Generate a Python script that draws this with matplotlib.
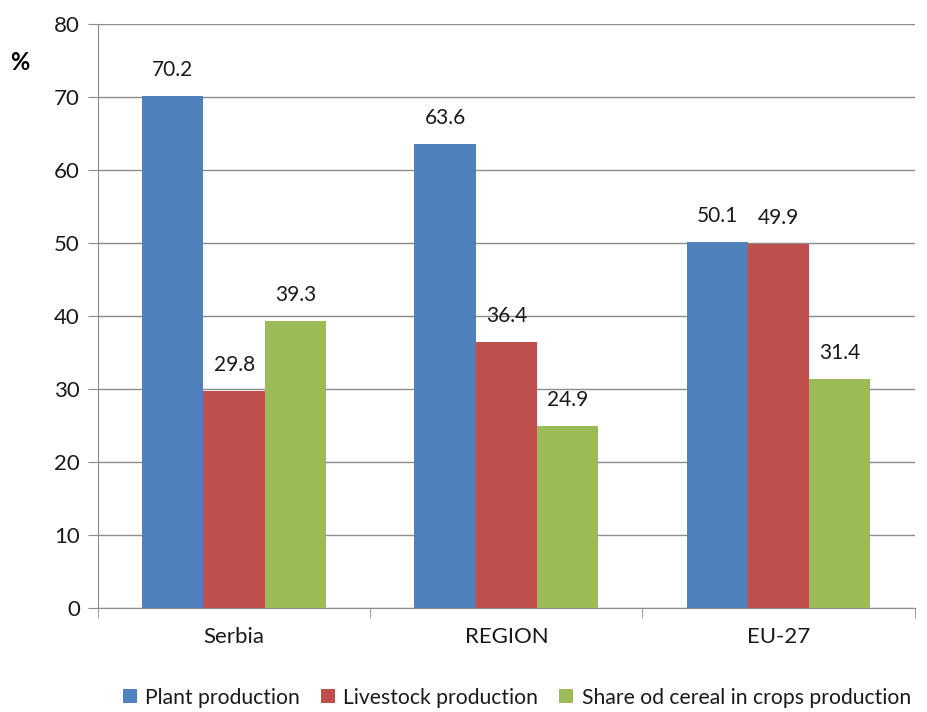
import numpy as np
import matplotlib
matplotlib.use('Agg')
import matplotlib.pyplot as plt
from matplotlib.patches import Patch

plt.rcParams['font.family'] = ['Lato', 'DejaVu Sans']

regions = ['Serbia', 'REGION', 'EU-27']
plant = [70.2, 63.6, 50.1]
livestock = [29.8, 36.4, 49.9]
cereal = [39.3, 24.9, 31.4]
series = ['Plant production', 'Livestock production', 'Share od cereal in crops production']
colors = ['#4f81bd', '#c0504d', '#9bbb59']

fig = plt.figure(figsize=(9.28, 7.12), dpi=100)
ax = fig.add_axes([0.1056, 0.146, 0.880, 0.820])

x = np.arange(len(regions))
w = 0.225
for k, vals in enumerate([plant, livestock, cereal]):
    pos = x + (k - 1) * w
    ax.bar(pos, vals, w, color=colors[k], zorder=3)
    for p, v in zip(pos, vals):
        ax.text(p, v + 2.2, f'{v:.1f}', ha='center', va='bottom', fontsize=15, color='#1a1a1a')

ax.set_ylim(0, 80)
ax.set_xlim(-0.5, 2.5)
ax.set_yticks(range(0, 81, 10))
ax.yaxis.grid(True, color='#8c8c8c', linewidth=1, zorder=0)
ax.set_xticks(x)
ax.set_xticklabels(regions, fontsize=16, color='#1a1a1a')
ax.set_xticks([-0.5, 0.5, 1.5, 2.5], minor=True)
ax.tick_params(axis='x', which='major', length=0, pad=14)
ax.tick_params(axis='x', which='minor', length=7, color='#8c8c8c', direction='out')
ax.tick_params(axis='y', length=7, color='#8c8c8c', labelsize=16, labelcolor='#1a1a1a', pad=6)
for s in ['top', 'right']:
    ax.spines[s].set_visible(False)
for s in ['left', 'bottom']:
    ax.spines[s].set_color('#8c8c8c')
ax.text(-0.107, 0.935, '%', transform=ax.transAxes, fontsize=17, fontweight='bold', ha='left', va='center')

handles = [Patch(facecolor=c, label=s) for c, s in zip(colors, series)]
fig.legend(handles=handles, loc='center', bbox_to_anchor=(0.557, 0.02), ncol=3, frameon=False,
           fontsize=15.2, handlelength=0.65, handleheight=0.65, handletextpad=0.4, columnspacing=1.0,
           labelcolor='#1a1a1a')

fig.savefig('out.png', dpi=100)
